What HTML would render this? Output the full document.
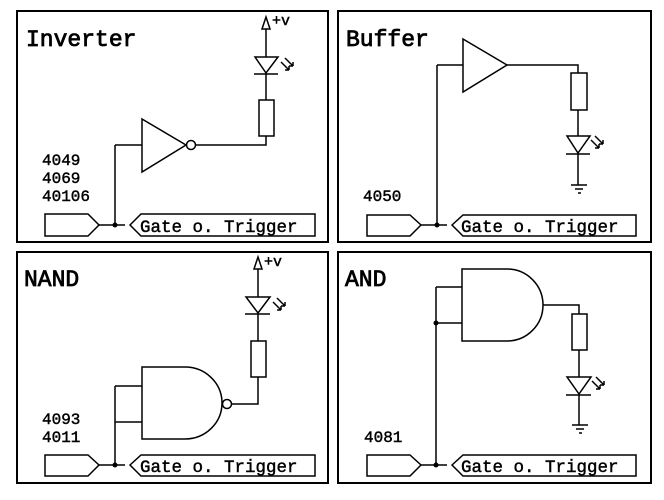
<!DOCTYPE html>
<html><head><meta charset="utf-8"><style>
html,body{margin:0;padding:0;background:#fff;}
svg{display:block;}
text{font-family:"Liberation Mono","DejaVu Sans Mono",monospace;fill:#000;stroke:#000;stroke-width:0.45;}
</style></head><body>
<svg width="664" height="500" viewBox="0 0 664 500" xmlns="http://www.w3.org/2000/svg">
<g fill="none" stroke="#000" stroke-width="1.5">
<rect x="17" y="11" width="311" height="231" stroke-width="2"/>
<rect x="338" y="11" width="313" height="231" stroke-width="2"/>
<rect x="17" y="252" width="311" height="231" stroke-width="2"/>
<rect x="338" y="252" width="313" height="231" stroke-width="2"/>

<polygon points="45,214 88,214 99,225 88,236 45,236"/>
<line x1="99" y1="225" x2="125" y2="225"/>
<polygon points="130,225 141,214 315,214 315,236 141,236"/>
<line x1="115" y1="145" x2="115" y2="225"/>
<line x1="115" y1="145" x2="142" y2="145"/>
<polygon points="142,119 186,145 142,172"/>
<circle cx="191" cy="145" r="4.5"/>
<polyline points="195.5,145 266,145 266,136"/>
<rect x="259" y="100" width="15" height="36"/>
<line x1="266" y1="100" x2="266" y2="74"/>
<polygon points="255,57 278,57 266,73"/>
<line x1="254" y1="74" x2="278" y2="74"/>
<line x1="266" y1="57" x2="266" y2="29"/>
<polygon points="262,29 270,29 266,17"/>
<path d="M281,62 l8,8 M285,58 l8,8 M289,70 v-4 M289,70 h-4 M293,66 v-4 M293,66 h-4"/>

<polygon points="367,215 410,215 421,225 410,236 367,236"/>
<line x1="421" y1="225" x2="447" y2="225"/>
<polygon points="452,225 463,215 636,215 636,236 463,236"/>
<line x1="437" y1="65" x2="437" y2="225"/>
<line x1="437" y1="65" x2="463" y2="65"/>
<polygon points="463,39 507,65 463,92"/>
<polyline points="507,65 578,65 578,73"/>
<rect x="571" y="73" width="16" height="37"/>
<line x1="578" y1="110" x2="578" y2="136"/>
<polygon points="567,136 590,136 578,153"/>
<line x1="566" y1="154" x2="590" y2="154"/>
<line x1="578" y1="154" x2="578" y2="185"/>
<path d="M571,185 h16 M575,189 h8 M578,193 h3"/>
<path d="M591,140 l8,8 M595,136 l8,8 M599,148 v-4 M599,148 h-4 M603,144 v-4 M603,144 h-4"/>

<polygon points="45,455 88,455 99,465 88,476 45,476"/>
<line x1="99" y1="465" x2="125" y2="465"/>
<polygon points="130,465 141,455 315,455 315,476 141,476"/>
<line x1="115" y1="386" x2="115" y2="465"/>
<line x1="115" y1="386" x2="142" y2="386"/>
<line x1="115" y1="422" x2="142" y2="422"/>
<path d="M142,367 L185,367 A37,36 0 0 1 185,439 L142,439 Z"/>
<circle cx="227" cy="404" r="4.5"/>
<polyline points="231.5,404 258,404 258,377"/>
<rect x="251" y="341" width="15" height="36"/>
<line x1="258" y1="341" x2="258" y2="314"/>
<polygon points="246,297 270,297 258,313"/>
<line x1="245" y1="314" x2="270" y2="314"/>
<line x1="258" y1="297" x2="258" y2="269"/>
<polygon points="254,269 262,269 258,257"/>
<path d="M273,302 l8,8 M277,298 l8,8 M281,310 v-4 M281,310 h-4 M285,306 v-4 M285,306 h-4"/>

<polygon points="367,455 410,455 421,465 410,476 367,476"/>
<line x1="421" y1="465" x2="447" y2="465"/>
<polygon points="452,465 463,455 636,455 636,476 463,476"/>
<line x1="436" y1="287" x2="436" y2="465"/>
<line x1="436" y1="287" x2="462" y2="287"/>
<line x1="436" y1="323" x2="462" y2="323"/>
<path d="M462,269 L507,269 A36,36 0 0 1 507,341 L462,341 Z"/>
<polyline points="543,305 579,305 579,314"/>
<rect x="572" y="314" width="15" height="36"/>
<line x1="579" y1="350" x2="579" y2="377"/>
<polygon points="567,377 591,377 579,394"/>
<line x1="566" y1="395" x2="591" y2="395"/>
<line x1="579" y1="395" x2="579" y2="425"/>
<path d="M572,425 h16 M576,429 h8 M579,433 h3"/>
<path d="M592,381 l8,8 M596,377 l8,8 M600,389 v-4 M600,389 h-4 M604,385 v-4 M604,385 h-4"/>
</g>
<g fill="#000">
<circle cx="115" cy="225" r="2.5"/>
<circle cx="437" cy="225" r="2.5"/>
<circle cx="115" cy="465" r="2.5"/>
<circle cx="436" cy="465" r="2.5"/>
<circle cx="436" cy="323" r="2.5"/>
</g>
<g>
<text x="26" y="46" font-size="23" style="stroke-width:0.8">Inverter</text>
<text x="346" y="46" font-size="23" style="stroke-width:0.8">Buffer</text>
<text x="24" y="286" font-size="23" style="stroke-width:0.8">NAND</text>
<text x="345" y="286" font-size="23" style="stroke-width:0.8">AND</text>
<text x="272" y="25" font-size="15">+v</text>
<text x="264" y="266" font-size="15">+v</text>
<text x="42" y="165" font-size="16">4049</text>
<text x="42" y="183" font-size="16">4069</text>
<text x="42" y="201" font-size="16">40106</text>
<text x="363" y="201" font-size="16">4050</text>
<text x="42" y="424" font-size="16">4093</text>
<text x="42" y="442" font-size="16">4011</text>
<text x="364" y="442" font-size="16">4081</text>
<text x="140" y="232" font-size="17.5">Gate o. Trigger</text>
<text x="461" y="232" font-size="17.5">Gate o. Trigger</text>
<text x="140" y="472" font-size="17.5">Gate o. Trigger</text>
<text x="461" y="472" font-size="17.5">Gate o. Trigger</text>
</g>
</svg>
</body></html>
